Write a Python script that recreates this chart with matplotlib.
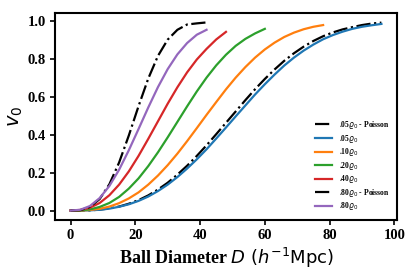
import matplotlib
matplotlib.use("Agg")
import matplotlib.pyplot as plt

# ball diameters (h^-1 Mpc), sampled every 3
D_96 = list(range(0, 97, 3))
D_78 = list(range(0, 79, 3))
D_60 = list(range(0, 61, 3))
D_48 = list(range(0, 49, 3))
D_42 = list(range(0, 43, 3))

# void probability v0
v_p05 = [0.000, 0.000, 0.001, 0.005, 0.011, 0.021, 0.036, 0.055, 0.080, 0.111, 0.147,
         0.190, 0.237, 0.289, 0.345, 0.404, 0.464, 0.524, 0.584, 0.642, 0.696, 0.746,
         0.792, 0.832, 0.867, 0.897, 0.922, 0.942, 0.958, 0.970, 0.981, 0.989, 0.994]
v_05 = [0.000, 0.000, 0.001, 0.004, 0.010, 0.020, 0.033, 0.051, 0.074, 0.103, 0.137,
        0.177, 0.222, 0.271, 0.324, 0.381, 0.439, 0.498, 0.556, 0.614, 0.668, 0.719,
        0.767, 0.809, 0.846, 0.878, 0.906, 0.928, 0.946, 0.961, 0.972, 0.980, 0.987]
v_10 = [0.000, 0.000, 0.003, 0.009, 0.021, 0.039, 0.064, 0.096, 0.137, 0.185, 0.240,
        0.301, 0.367, 0.436, 0.506, 0.574, 0.641, 0.703, 0.759, 0.809, 0.852, 0.888,
        0.918, 0.941, 0.959, 0.972, 0.981]
v_20 = [0.000, 0.001, 0.006, 0.019, 0.040, 0.072, 0.116, 0.170, 0.235, 0.308, 0.387,
        0.469, 0.551, 0.630, 0.703, 0.768, 0.824, 0.871, 0.908, 0.937, 0.961]
v_40 = [0.000, 0.003, 0.015, 0.040, 0.081, 0.137, 0.207, 0.289, 0.379, 0.472, 0.565,
        0.652, 0.731, 0.799, 0.855, 0.905, 0.945]
v_p80 = [0.000, 0.002, 0.019, 0.061, 0.139, 0.254, 0.397, 0.552, 0.698, 0.818, 0.904,
         0.956, 0.984, 0.990, 0.995]
v_80 = [0.000, 0.004, 0.024, 0.066, 0.130, 0.216, 0.319, 0.431, 0.545, 0.653, 0.748,
        0.826, 0.886, 0.930, 0.956]

series = [
    (D_96, v_p05, r".05$\varrho_0$ - Poisson", "black", "-."),
    (D_96, v_05, r".05$\varrho_0$", "tab:blue", "-"),
    (D_78, v_10, r".10$\varrho_0$", "tab:orange", "-"),
    (D_60, v_20, r".20$\varrho_0$", "tab:green", "-"),
    (D_48, v_40, r".40$\varrho_0$", "tab:red", "-"),
    (D_42, v_p80, r".80$\varrho_0$ - Poisson", "black", "-."),
    (D_42, v_80, r".80$\varrho_0$", "tab:purple", "-"),
]

fig = plt.figure(figsize=(4.15, 2.77), dpi=100)
ax = fig.add_axes([0.1325, 0.206, 0.824, 0.747])

for d, v, lab, col, ls in series:
    ax.plot(d, v, color=col, linestyle=ls, linewidth=1.6, label=lab)

ax.set_xticks([0, 20, 40, 60, 80, 100])
ax.set_yticks([0.0, 0.2, 0.4, 0.6, 0.8, 1.0])
ax.tick_params(width=1.2, length=3.5, pad=3)
for lbl in ax.get_xticklabels() + ax.get_yticklabels():
    lbl.set_family("Liberation Serif")
    lbl.set_fontweight("bold")
    lbl.set_fontsize(10.5)
for sp in ax.spines.values():
    sp.set_linewidth(1.5)

ax.set_ylabel(r"$v_0$", fontsize=14, labelpad=2)
ax.set_xlabel(r"Ball Diameter $D\ (h^{-1}\mathrm{Mpc})$", fontsize=13,
              family="Liberation Serif", fontweight="bold", labelpad=3)

ax.legend(loc="lower right", frameon=False, handlelength=2.3,
          prop={"family": "Liberation Serif", "weight": "bold", "size": 5.5},
          labelspacing=0.2, borderaxespad=0.6, handletextpad=0.8)

fig.savefig("out.png", dpi=100)
